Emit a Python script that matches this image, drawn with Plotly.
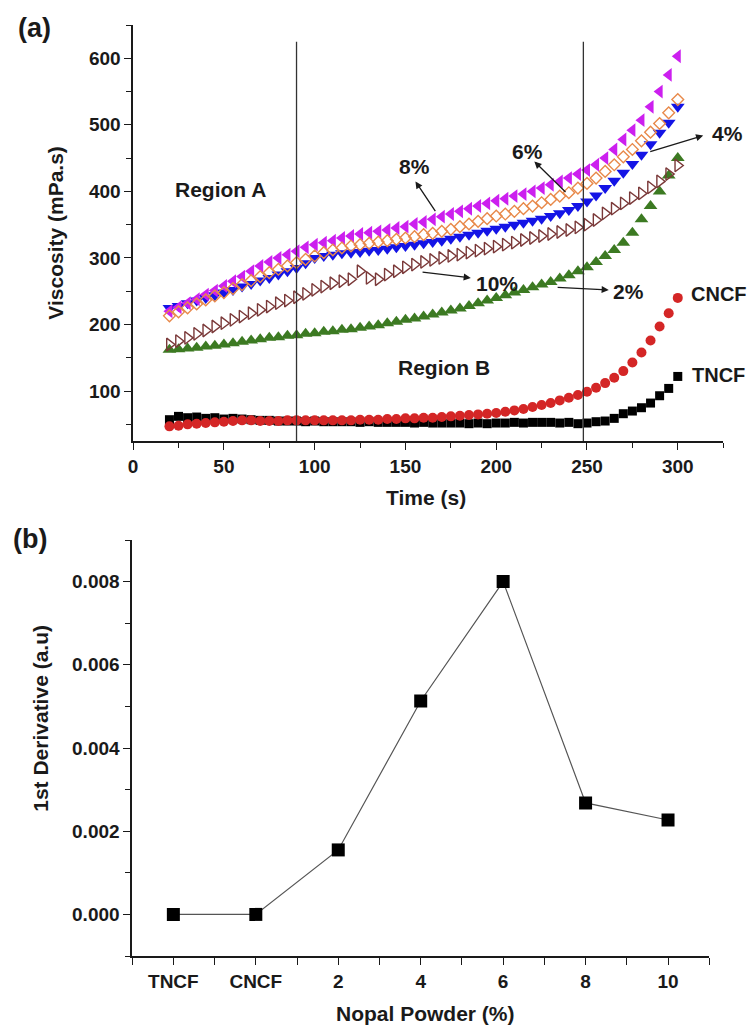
import plotly.graph_objects as go

# ---------------- Panel (a) data ----------------
time_s = [20, 25, 30, 35, 40, 45, 50, 55, 60, 65, 70, 75, 80, 85, 90, 95, 100, 105, 110, 115,
          120, 125, 130, 135, 140, 145, 150, 155, 160, 165, 170, 175, 180, 185, 190, 195, 200,
          205, 210, 215, 220, 225, 230, 235, 240, 245, 250, 255, 260, 265, 270, 275, 280, 285,
          290, 295, 300]

visc_tncf = [57, 62, 60, 61, 59, 60, 58, 59, 58, 57, 56, 56, 55, 55, 55, 54, 55, 54, 54, 54,
             54, 53, 54, 53, 53, 53, 53, 52, 53, 52, 52, 52, 52, 51, 52, 51, 52, 52, 53, 52,
             53, 53, 53, 52, 53, 51, 52, 54, 55, 59, 66, 70, 75, 82, 93, 104, 122]
visc_cncf = [47, 48, 50, 51, 52, 53, 54, 55, 56, 56, 55, 55, 55, 56, 56, 56, 56, 56, 56, 56,
             56, 57, 57, 57, 58, 58, 59, 59, 60, 60, 61, 62, 63, 64, 65, 66, 67, 69, 71, 73,
             76, 79, 82, 86, 90, 94, 99, 105, 112, 120, 130, 143, 158, 176, 197, 217, 240]
visc_2 = [162, 163, 164, 165, 167, 168, 170, 172, 174, 176, 178, 180, 181, 183, 184, 186, 187,
          189, 190, 192, 193, 195, 197, 199, 202, 204, 207, 209, 212, 215, 218, 221, 224, 228,
          232, 236, 240, 244, 248, 252, 256, 260, 264, 269, 274, 280, 286, 294, 303, 312, 323,
          338, 358, 378, 400, 424, 450]
visc_4 = [225, 228, 232, 236, 240, 244, 248, 252, 257, 261, 266, 270, 275, 280, 285, 292, 300,
          303, 305, 307, 308, 309, 311, 312, 314, 316, 318, 320, 322, 324, 326, 329, 332, 335,
          338, 341, 344, 347, 350, 353, 356, 359, 363, 367, 372, 378, 385, 394, 405, 416, 428,
          441, 455, 471, 488, 503, 527]
visc_6 = [213, 219, 225, 231, 237, 243, 248, 254, 260, 266, 272, 278, 283, 288, 293, 298, 303,
          308, 312, 315, 318, 320, 322, 324, 326, 328, 330, 332, 335, 337, 340, 343, 347, 351,
          355, 359, 363, 366, 370, 374, 378, 383, 388, 393, 398, 405, 412, 420, 430, 440, 452,
          463, 476, 489, 502, 518, 538]
visc_8 = [220, 226, 232, 238, 245, 251, 258, 265, 272, 280, 288, 294, 300, 305, 310, 316, 320,
          323, 326, 330, 333, 336, 338, 340, 342, 345, 347, 351, 354, 358, 362, 366, 370, 374,
          378, 382, 386, 389, 393, 396, 400, 405, 410, 415, 420, 426, 432, 440, 450, 463, 478,
          492, 507, 527, 550, 575, 603]
visc_10 = [170, 175, 180, 186, 191, 197, 202, 207, 212, 217, 222, 227, 232, 236, 241, 246, 252,
           257, 262, 265, 268, 280, 270, 268, 275, 280, 286, 290, 294, 297, 300, 303, 305, 308,
           311, 314, 317, 320, 323, 327, 330, 333, 336, 339, 342, 346, 350, 357, 367, 374, 382,
           390, 397, 406, 415, 426, 439]

region_lines = [90, 248]

# ---------------- Panel (b) data ----------------
nopal_labels = ["TNCF", "CNCF", "2", "4", "6", "8", "10"]
derivative = [0.0, 0.0, 0.00155, 0.00513, 0.0080, 0.00268, 0.00227]

FONT = "Liberation Sans"
W, H = 747, 1026

fig = go.Figure()

series = [
    ("TNCF", visc_tncf, "square", "#000000", 9),
    ("CNCF", visc_cncf, "circle", "#D42626", 10),
    ("2%", visc_2, "triangle-up", "#3C7A22", 12),
    ("10%", visc_10, "triangle-right-open", "#7A3838", 11),
    ("4%", visc_4, "triangle-down", "#1414E6", 12),
    ("8%", visc_8, "triangle-left", "#CC1FEF", 12),
    ("6%", visc_6, "diamond-open", "#E8894A", 9),
]
for name, vals, sym, col, sz in series:
    fig.add_trace(go.Scatter(
        x=time_s, y=vals, mode="markers", name=name, xaxis="x", yaxis="y",
        marker=dict(symbol=sym, color=col, size=sz,
                    line=dict(color=col, width=1.4 if "open" in sym else 0)),
        showlegend=False, cliponaxis=False))

fig.add_trace(go.Scatter(
    x=list(range(len(nopal_labels))), y=derivative, mode="lines+markers",
    xaxis="x2", yaxis="y2", showlegend=False,
    line=dict(color="#555555", width=1.2),
    marker=dict(symbol="square", color="#000000", size=13)))

# vertical region lines
for xv in region_lines:
    fig.add_shape(type="line", xref="x", yref="y", x0=xv, x1=xv, y0=25, y1=625,
                  line=dict(color="#333333", width=1.3))

ann = []
def txt(x, y, s, size=19, xref="x", yref="y", xanchor="center", angle=0, bold=True):
    ann.append(dict(x=x, y=y, xref=xref, yref=yref, text=("<b>%s</b>" % s) if bold else s,
                    showarrow=False, xanchor=xanchor, yanchor="middle", textangle=angle,
                    font=dict(family=FONT, size=size, color="#1a1a1a")))

def arrow(x0, y0, x1, y1):
    ann.append(dict(x=x1, y=y1, ax=x0, ay=y0, xref="x", yref="y", axref="x", ayref="y",
                    text="", showarrow=True, arrowhead=2, arrowsize=1.1, arrowwidth=1.3,
                    arrowcolor="#1a1a1a"))

txt(48, 403, "Region A", 21)
txt(171, 135, "Region B", 21)
txt(155, 438, "8%", 21)
arrow(167, 368, 155.5, 415)
txt(217, 460, "6%", 21)
arrow(239, 397, 221, 445)
txt(727 / W, 1 - 133 / H, "4%", 21, xref="paper", yref="paper")
arrow(284, 459, 314, 484)
txt(200.5, 262, "10%", 21)
arrow(158.6, 279, 186, 270)
txt(273, 250, "2%", 21)
arrow(233, 256, 262, 252)
txt(306, 246, "CNCF", 20, xanchor="left")
txt(307, 124, "TNCF", 20, xanchor="left")

# panel labels & axis titles
txt(30 / W, 1 - 28 / H, "(a)", 27, xref="paper", yref="paper")
txt(25 / W, 1 - 539 / H, "(b)", 27, xref="paper", yref="paper")
txt(50 / W, 1 - 233 / H, "Viscosity (mPa.s)", 21, xref="paper", yref="paper", angle=-90)
txt(424 / W, 1 - 497 / H, "Time (s)", 21, xref="paper", yref="paper")
txt(35 / W, 1 - 718 / H, "1st Derivative (a.u)", 21, xref="paper", yref="paper", angle=-90)
txt(423 / W, 1 - 1013 / H, "Nopal Powder (%)", 21, xref="paper", yref="paper")

axis_common = dict(showline=True, linecolor="#1a1a1a", linewidth=1.5, ticks="outside",
                   ticklen=7, tickwidth=1.3, tickcolor="#1a1a1a", showgrid=False,
                   zeroline=False, tickfont=dict(family=FONT, size=19, color="#1a1a1a"))

fig.update_layout(
    width=W, height=H, margin=dict(l=0, r=0, t=0, b=0),
    paper_bgcolor="white", plot_bgcolor="white",
    annotations=ann,
    xaxis=dict(axis_common, domain=[129 / W, 723 / W], range=[0, 325], tick0=0, dtick=50,
               anchor="y", tickprefix="<b>", ticksuffix="</b>",
               minor=dict(dtick=25, tick0=0, ticks="outside", ticklen=5, tickcolor="#1a1a1a")),
    yaxis=dict(axis_common, domain=[1 - 441 / H, 1 - 25 / H], range=[25, 650], tick0=0, dtick=100,
               anchor="x", tickprefix="<b>", ticksuffix="</b>",
               minor=dict(dtick=50, tick0=0, ticks="outside", ticklen=5, tickcolor="#1a1a1a")),
    xaxis2=dict(axis_common, domain=[128 / W, 709 / W], range=[-0.5, 6.5], anchor="y2",
                tickmode="array", tickvals=list(range(len(nopal_labels))),
                ticktext=["<b>%s</b>" % s for s in nopal_labels],
                minor=dict(tickvals=[-0.5, 0.5, 1.5, 2.5, 3.5, 4.5, 5.5, 6.5], ticks="outside",
                           ticklen=7, tickcolor="#1a1a1a")),
    yaxis2=dict(axis_common, domain=[1 - 956 / H, 1 - 540 / H], range=[-0.001, 0.009],
                tick0=0, dtick=0.002, tickformat=".3f", anchor="x2",
                tickprefix="<b>", ticksuffix="</b>",
                minor=dict(dtick=0.001, tick0=0, ticks="outside", ticklen=5, tickcolor="#1a1a1a")),
)

fig.write_html("out.html")
